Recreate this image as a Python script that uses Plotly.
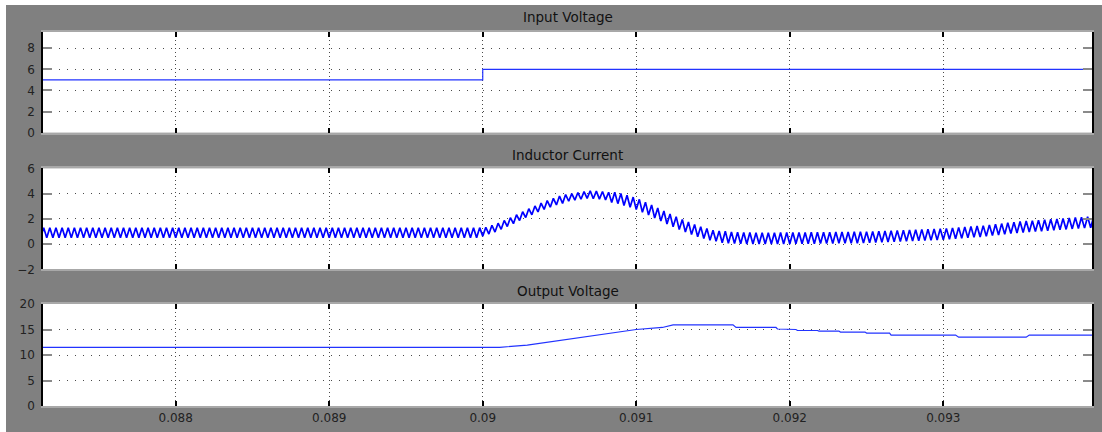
import numpy as np
import plotly.graph_objects as go

# ---------------- data ----------------
# Input voltage (V)
vin_t = [0.08712, 0.09000, 0.09000, 0.09400]
vin_v = [5.0, 5.0, 6.0, 6.0]

# Inductor current: one valley and one peak per switching cycle (40 us period)
il_t0 = 0.08712
il_period = 0.00004
il_valley = [
    0.5, 0.5, 0.5, 0.5, 0.5, 0.5, 0.5, 0.5, 0.5, 0.5, 0.5, 0.5,
    0.5, 0.5, 0.5, 0.5, 0.5, 0.5, 0.5, 0.5, 0.5, 0.5, 0.5, 0.5,
    0.5, 0.5, 0.5, 0.5, 0.5, 0.5, 0.5, 0.5, 0.5, 0.5, 0.5, 0.5,
    0.5, 0.5, 0.5, 0.5, 0.5, 0.5, 0.5, 0.5, 0.5, 0.5, 0.5, 0.5,
    0.5, 0.5, 0.5, 0.5, 0.5, 0.5, 0.5, 0.5, 0.5, 0.5, 0.5, 0.5,
    0.5, 0.5, 0.5, 0.5, 0.5, 0.5, 0.5, 0.5, 0.5, 0.5, 0.5, 0.5,
    0.63, 0.79, 0.95, 1.17, 1.39, 1.62, 1.86, 2.10, 2.32, 2.54, 2.74, 2.92,
    3.10, 3.22, 3.39, 3.48, 3.55, 3.62, 3.59, 3.56, 3.50, 3.30, 3.20, 3.06,
    2.92, 2.74, 2.52, 2.30, 2.06, 1.82, 1.59, 1.37, 1.15, 0.95, 0.75, 0.58,
    0.44, 0.30, 0.23, 0.11, 0.06, 0.04, 0.02, 0.01, 0.00, 0.00, 0.00, 0.00,
    0.01, 0.01, 0.01, 0.02, 0.02, 0.03, 0.03, 0.04, 0.04, 0.05, 0.06, 0.06,
    0.07, 0.07, 0.08, 0.10, 0.12, 0.14, 0.16, 0.18, 0.20, 0.22, 0.24, 0.26,
    0.27, 0.29, 0.31, 0.34, 0.38, 0.42, 0.46, 0.49, 0.53, 0.56, 0.62, 0.67,
    0.72, 0.78, 0.83, 0.88, 0.92, 0.95, 0.99, 1.02, 1.06, 1.09, 1.13, 1.16,
    1.20, 1.23, 1.26, 1.29,
]
il_peak = [
    1.3, 1.3, 1.3, 1.3, 1.3, 1.3, 1.3, 1.3, 1.3, 1.3, 1.3, 1.3,
    1.3, 1.3, 1.3, 1.3, 1.3, 1.3, 1.3, 1.3, 1.3, 1.3, 1.3, 1.3,
    1.3, 1.3, 1.3, 1.3, 1.3, 1.3, 1.3, 1.3, 1.3, 1.3, 1.3, 1.3,
    1.3, 1.3, 1.3, 1.3, 1.3, 1.3, 1.3, 1.3, 1.3, 1.3, 1.3, 1.3,
    1.3, 1.3, 1.3, 1.3, 1.3, 1.3, 1.3, 1.3, 1.3, 1.3, 1.3, 1.3,
    1.3, 1.3, 1.3, 1.3, 1.3, 1.3, 1.3, 1.3, 1.3, 1.3, 1.3, 1.3,
    1.33, 1.49, 1.65, 1.87, 2.09, 2.32, 2.56, 2.80, 3.02, 3.24, 3.44, 3.62,
    3.80, 3.92, 3.99, 4.08, 4.15, 4.22, 4.19, 4.16, 4.10, 4.10, 4.00, 3.86,
    3.72, 3.54, 3.32, 3.10, 2.86, 2.62, 2.39, 2.17, 1.95, 1.75, 1.55, 1.38,
    1.24, 1.10, 1.03, 1.01, 0.96, 0.94, 0.92, 0.91, 0.90, 0.90, 0.90, 0.90,
    0.91, 0.91, 0.91, 0.92, 0.92, 0.93, 0.93, 0.94, 0.94, 0.95, 0.96, 0.96,
    0.97, 0.97, 0.98, 1.00, 1.02, 1.04, 1.06, 1.08, 1.10, 1.12, 1.14, 1.16,
    1.17, 1.19, 1.21, 1.24, 1.28, 1.32, 1.36, 1.39, 1.43, 1.46, 1.52, 1.57,
    1.62, 1.68, 1.73, 1.78, 1.82, 1.85, 1.89, 1.92, 1.96, 1.99, 2.03, 2.06,
    2.10, 2.13, 2.16, 2.19,
]

# Output voltage (V)
vout_t = [0.08712, 0.09011, 0.09029, 0.09044, 0.09065, 0.09083, 0.09100,
          0.09117, 0.09124, 0.09163, 0.09165, 0.09191, 0.09192, 0.09204,
          0.09205, 0.09218, 0.09219, 0.09232, 0.09233, 0.09249, 0.09250,
          0.09265, 0.09266, 0.09308, 0.09310, 0.09354, 0.09356, 0.09400]
vout_v = [11.5, 11.5, 11.95, 12.6, 13.5, 14.3, 15.0,
          15.4, 15.9, 15.9, 15.4, 15.4, 15.1, 15.0,
          14.8, 14.8, 14.7, 14.7, 14.5, 14.5, 14.3,
          14.3, 13.9, 13.9, 13.5, 13.5, 13.9, 13.9]

x_tickvals = [0.088, 0.089, 0.090, 0.091, 0.092, 0.093]
x_ticktext = ["0.088", "0.089", "0.09", "0.091", "0.092", "0.093"]
titles = ["Input Voltage", "Inductor Current", "Output Voltage"]
y_ticks = [[0, 2, 4, 6, 8], [-2, 0, 2, 4, 6], [0, 5, 10, 15, 20]]
y_ranges = [[0, 9.54], [-2, 6], [0, 20]]

# interleave valleys/peaks on the switching time grid
il_vals = []
for v, p in zip(il_valley, il_peak):
    il_vals += [v, p]
il_t = il_t0 + (il_period / 2) * np.arange(len(il_vals))

# ---------------- figure ----------------
W, H = 1102, 432
ML, MR, MT, MB = 43, 10, 32, 26
ph = H - MT - MB
pw = W - ML - MR

def py(pix):  # pixel y -> paper
    return (H - MB - pix) / ph

def px(pix):
    return (pix - ML) / pw

domains = [[py(132.7), 1.0], [py(269.3), py(168.3)], [0.0, py(304)]]
x_range = [0.0871356, 0.0939686]

fig = go.Figure()
fig.add_trace(go.Scatter(x=vin_t, y=vin_v, mode="lines",
                         line=dict(color="#2233ff", width=1.2),
                         xaxis="x", yaxis="y", hoverinfo="skip"))
fig.add_trace(go.Scatter(x=il_t, y=il_vals, mode="lines",
                         line=dict(color="#0000ff", width=1.7),
                         xaxis="x2", yaxis="y2", hoverinfo="skip"))
fig.add_trace(go.Scatter(x=vout_t, y=vout_v, mode="lines",
                         line=dict(color="#2233ff", width=1.2),
                         xaxis="x3", yaxis="y3", hoverinfo="skip"))

font = dict(family="DejaVu Sans, Verdana, sans-serif", size=12, color="#222222")
layout = dict(
    width=W, height=H,
    margin=dict(l=ML, r=MR, t=MT, b=MB),
    paper_bgcolor="#808080",
    plot_bgcolor="#ffffff",
    showlegend=False,
    font=font,
)
for i in range(3):
    sx = "" if i == 0 else str(i + 1)
    layout["xaxis" + sx] = dict(
        domain=[0, 1], range=x_range, anchor="y" + sx,
        tickvals=x_tickvals, ticktext=x_ticktext,
        showticklabels=(i == 2),
        ticks="inside", ticklen=5, tickwidth=1.5, tickcolor="#000000",
        showline=True, linecolor="#a8a8a8", linewidth=2, mirror="ticks",
        showgrid=True, gridcolor="#4a4a4a", gridwidth=1, griddash="1px,3px",
        zeroline=False, tickfont=font, automargin=False,
    )
    layout["yaxis" + sx] = dict(
        domain=domains[i], range=y_ranges[i], anchor="x" + sx,
        tickvals=y_ticks[i],
        ticks="inside", ticklen=9, tickwidth=2, tickcolor="#8a8a8a",
        showline=True, linecolor="#000000", linewidth=1.5, mirror="ticks",
        showgrid=True, gridcolor="#4a4a4a", gridwidth=1, griddash="1px,7px",
        zeroline=False, tickfont=font, ticklabelstandoff=4, automargin=False,
    )
fig.update_layout(**layout)

title_y = [17, 155, 291]
for t, yy in zip(titles, title_y):
    fig.add_annotation(text=t, x=0.5, y=py(yy), xref="paper", yref="paper",
                       showarrow=False, xanchor="center", yanchor="middle",
                       font=dict(family="DejaVu Sans, Verdana, sans-serif",
                                 size=13.5, color="#111111"))

# thin white frame strips at the top and left edge of the window
fig.add_shape(type="rect", xref="paper", yref="paper",
              x0=px(-5), x1=px(W + 5), y0=py(5), y1=py(-5),
              fillcolor="#ffffff", line=dict(width=0), layer="above")
fig.add_shape(type="rect", xref="paper", yref="paper",
              x0=px(-5), x1=px(6), y0=py(H + 5), y1=py(-5),
              fillcolor="#ffffff", line=dict(width=0), layer="above")

fig.write_html(
    "out.html",
    config={"displayModeBar": False, "responsive": False},
    post_script="document.body.style.margin='0';document.body.style.overflow='hidden';",
)
